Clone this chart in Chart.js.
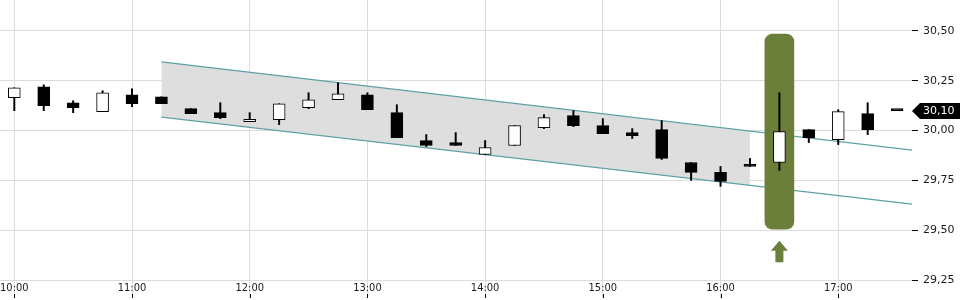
<!DOCTYPE html>
<html><head><meta charset="utf-8">
<script src="https://cdn.jsdelivr.net/npm/chart.js@4"></script>
<style>html,body{margin:0;padding:0;background:#fff}#wrap{width:960px;height:300px}</style>
</head><body><div id="wrap"><canvas id="c" width="960" height="300"></canvas></div>
<script>
// ---- data ----
const times  = ['10:00','10:15','10:30','10:45','11:00','11:15','11:30','11:45','12:00','12:15','12:30','12:45','13:00','13:15','13:30','13:45','14:00','14:15','14:30','14:45','15:00','15:15','15:30','15:45','16:00','16:15','16:30','16:45','17:00','17:15','17:30'];
const opens  = [30.165,30.22,30.14,30.095,30.18,30.17,30.11,30.09,30.045,30.055,30.115,30.155,30.18,30.09,29.95,29.94,29.88,29.925,30.015,30.075,30.025,29.99,30.005,29.84,29.79,29.83,29.84,30.005,29.955,30.085,30.10];
const highs  = [30.215,30.23,30.15,30.20,30.21,30.17,30.11,30.14,30.09,30.135,30.19,30.24,30.19,30.13,29.98,29.99,29.95,30.025,30.08,30.10,30.06,30.01,30.05,29.84,29.82,29.86,30.19,30.005,30.105,30.14,30.10];
const lows   = [30.10,30.10,30.09,30.095,30.12,30.135,30.085,30.06,30.045,30.03,30.11,30.155,30.105,29.965,29.92,29.925,29.88,29.925,30.01,30.02,29.985,29.96,29.855,29.75,29.72,29.82,29.80,29.94,29.93,29.98,30.10];
const closes = [30.215,30.125,30.115,30.19,30.135,30.135,30.085,30.065,30.057,30.135,30.155,30.185,30.105,29.965,29.925,29.925,29.915,30.025,30.065,30.025,29.985,29.975,29.86,29.79,29.745,29.82,29.995,29.965,30.095,30.005,30.10];
const xTickLabels = ['10:00','11:00','12:00','13:00','14:00','15:00','16:00','17:00'];
const yTickValues = [29.25,29.50,29.75,30.00,30.25,30.50];
const channelTimes = ['11:15','17:38'];
const channelUpper = [30.345,29.902];
const channelLower = [30.068,29.630];
const shadeTimes = ['11:15','16:15'];
const shadeUpper = [30.345,29.995];
const shadeLower = [30.068,29.726];
const signalTime = '16:30';
const signalBand = [29.505,30.485];
const signalArrowTop = 29.447;
const lastPrice = 30.10;

function toMin(t){const p=t.split(':');return (Number(p[0])-10)*60+parseFloat(p[1]);}
const fmt = v => Number(v).toFixed(2).replace('.',',');

const bodies = times.map((t,i)=>({x:toMin(t), y:[opens[i],closes[i]]}));
const wicks  = times.map((t,i)=>({x:toMin(t), y:[lows[i],highs[i]]}));
const bodyColors = times.map((t,i)=> closes[i]>opens[i] ? '#ffffff' : '#000000');
const pairs = (ts, vs) => ts.map((t,i)=>({x:toMin(t), y:vs[i]}));

const GREEN = '#6b7e3a', TEAL = '#5fa0a7', GRID = '#dcdcdc';

const overlay = {
  id:'overlay',
  afterDraw(chart){
    const {ctx, chartArea} = chart; const x = chart.scales.x, y = chart.scales.y;
    ctx.save();
    ctx.strokeStyle='#000'; ctx.lineWidth=1;
    x.ticks.forEach(t=>{const px=Math.round(x.getPixelForValue(t.value))+0.5;
      ctx.beginPath(); ctx.moveTo(px, chartArea.bottom+14); ctx.lineTo(px, chartArea.bottom+18); ctx.stroke();});
    const ax = x.getPixelForValue(toMin(signalTime)), ay = y.getPixelForValue(signalArrowTop);
    ctx.fillStyle = GREEN; ctx.beginPath();
    ctx.moveTo(ax, ay); ctx.lineTo(ax+8.5, ay+10); ctx.lineTo(ax+4, ay+10); ctx.lineTo(ax+4, ay+21.5);
    ctx.lineTo(ax-4, ay+21.5); ctx.lineTo(ax-4, ay+10); ctx.lineTo(ax-8.5, ay+10); ctx.closePath(); ctx.fill();
    const py = Math.round(y.getPixelForValue(lastPrice)), left = chartArea.right;
    ctx.fillStyle='#000'; ctx.beginPath();
    ctx.moveTo(left, py); ctx.lineTo(left+8, py-8); ctx.lineTo(960, py-8); ctx.lineTo(960, py+8); ctx.lineTo(left+8, py+8); ctx.closePath(); ctx.fill();
    ctx.fillStyle='#fff'; ctx.font='11px "DejaVu Sans"'; ctx.textBaseline='middle'; ctx.textAlign='left';
    ctx.fillText(fmt(lastPrice), left+11, py+0.5);
    ctx.restore();
  }
};

new Chart(document.getElementById('c'), {
  type:'bar',
  data:{datasets:[
    {type:'bar', data:bodies, backgroundColor:bodyColors, borderColor:'#000', borderWidth:1, borderSkipped:false, barThickness:12, grouped:false, minBarLength:2, order:0},
    {type:'bar', data:wicks, backgroundColor:'#000', borderWidth:0, barThickness:1.3, grouped:false, order:1},
    {type:'bar', data:[{x:toMin(signalTime), y:signalBand}], backgroundColor:GREEN, borderWidth:0, borderRadius:8, borderSkipped:false, barThickness:29, grouped:false, order:2},
    {type:'line', data:pairs(channelTimes, channelUpper), borderColor:TEAL, borderWidth:1.2, pointRadius:0, fill:false, order:3},
    {type:'line', data:pairs(channelTimes, channelLower), borderColor:TEAL, borderWidth:1.2, pointRadius:0, fill:false, order:3},
    {type:'line', data:pairs(shadeTimes, shadeUpper), borderColor:'rgba(0,0,0,0)', borderWidth:0, pointRadius:0, fill:'+1', backgroundColor:'#dedede', order:5},
    {type:'line', data:pairs(shadeTimes, shadeLower), borderColor:'rgba(0,0,0,0)', borderWidth:0, pointRadius:0, fill:false, order:5}
  ]},
  options:{
    responsive:false, animation:false,
    layout:{padding:0},
    plugins:{legend:{display:false}, tooltip:{enabled:false}},
    scales:{
      x:{type:'linear', position:'bottom', min:-7.29, max:457.6, offset:false,
        afterBuildTicks:s=>{s.ticks = xTickLabels.map(t=>({value:toMin(t)}));},
        afterFit:s=>{s.height=20; s.paddingLeft=0; s.paddingRight=0; s.paddingTop=0; s.paddingBottom=0;},
        grid:{color:GRID, lineWidth:1, tickLength:18, tickColor:GRID, offset:false},
        border:{display:false},
        ticks:{callback:v=>{const i=xTickLabels.findIndex(t=>toMin(t)===v);return i>=0?xTickLabels[i]:'';},
          font:{family:'DejaVu Sans Condensed', size:11}, color:'#1a1a1a', padding:-16, maxRotation:0, autoSkip:false}
      },
      y:{position:'right', min:29.25, max:30.6556,
        afterBuildTicks:s=>{s.ticks = yTickValues.map(v=>({value:v}));},
        afterFit:s=>{s.width=48; s.paddingTop=0; s.paddingBottom=0; s.paddingLeft=0; s.paddingRight=0;},
        grid:{color:GRID, lineWidth:1, tickLength:6, tickColor:'#000', offset:false},
        border:{display:false},
        ticks:{callback:v=>fmt(v), font:{family:'DejaVu Sans', size:11}, color:'#1a1a1a', padding:5}
      }
    }
  },
  plugins:[overlay]
});
</script></body></html>
